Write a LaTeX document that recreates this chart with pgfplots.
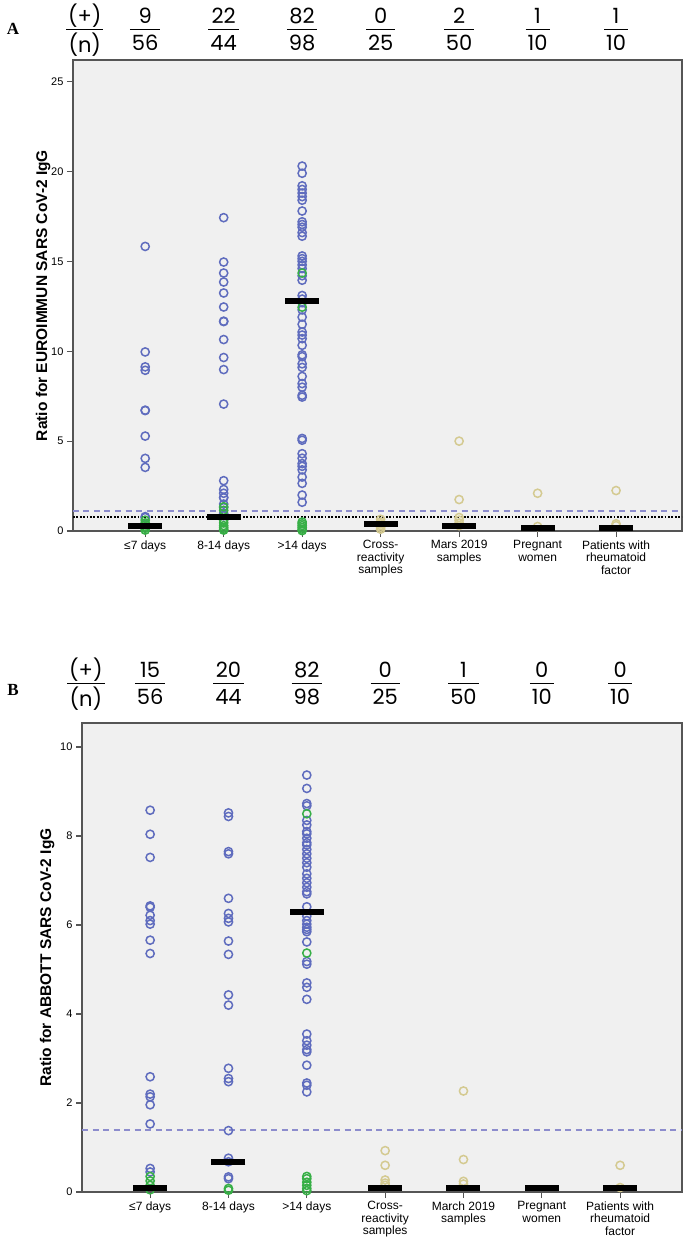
\documentclass[border=0pt]{standalone}
\usepackage{fontspec}
\setmainfont{Liberation Sans}
\newfontfamily\fracfont{Poppins}
\newfontfamily\serifb{Liberation Serif}
\usepackage{pgfplots}
\usepackage{pgfplotstable}
\pgfplotsset{compat=1.18}
\definecolor{bluept}{RGB}{95,108,190}
\definecolor{greenpt}{RGB}{55,175,70}
\definecolor{tanpt}{RGB}{212,202,145}
\definecolor{bgg}{RGB}{240,240,240}
\definecolor{framec}{RGB}{85,85,85}
\definecolor{dashc}{RGB}{140,140,205}

\newcommand{\fr}[2]{{\fracfont\fontsize{21}{24}\selectfont\setlength{\arrayrulewidth}{1.3pt}\setlength{\tabcolsep}{2pt}\begin{tabular}{c}#1\\[-2pt]\hline\noalign{\vskip 3pt}#2\end{tabular}}}

% ---------- Panel A data ----------
\pgfplotstableread{
x y
0 15.83
0 9.96
0 9.13
0 8.94
0 6.72
0 6.70
0 5.28
0 4.04
0 3.54
0 0.80
0 0.75
1 17.43
1 14.96
1 14.35
1 13.85
1 13.24
1 12.46
1 11.67
1 11.65
1 10.65
1 9.65
1 8.98
1 7.06
1 2.80
1 2.31
1 2.10
1 1.87
1 1.85
1 1.50
1 1.30
1 0.98
1 0.85
2 20.3
2 19.9
2 19.2
2 19.0
2 18.8
2 18.6
2 18.4
2 17.8
2 17.2
2 17.05
2 16.9
2 16.6
2 16.4
2 15.3
2 15.15
2 15.0
2 14.8
2 14.6
2 14.2
2 13.95
2 13.1
2 12.9
2 12.7
2 12.3
2 11.9
2 11.5
2 11.07
2 10.9
2 10.7
2 10.33
2 9.8
2 9.7
2 9.3
2 9.1
2 8.6
2 8.2
2 8.0
2 7.55
2 7.45
2 5.15
2 5.05
2 4.3
2 4.05
2 3.75
2 3.6
2 3.4
2 3.0
2 2.65
2 2.0
2 1.6
}\blueA
\pgfplotstableread{
x y
0 0.60
0 0.45
0 0.35
0 0.25
0 0.15
0 0.05
1 1.35
1 1.15
1 0.60
1 0.45
1 0.30
1 0.20
1 0.10
1 0.05
2 14.35
2 12.45
2 0.50
2 0.40
2 0.30
2 0.20
2 0.10
2 0.02
}\greenA
\pgfplotstableread{
x y
3 0.65
3 0.50
3 0.40
3 0.30
3 0.20
3 0.10
4 5.00
4 1.75
4 0.75
4 0.60
4 0.45
4 0.30
5 2.10
5 0.25
6 2.25
6 0.40
6 0.30
}\tanA
\pgfplotstableread{
x y
0 0.28
1 0.76
2 12.8
3 0.37
4 0.30
5 0.15
6 0.15
}\medA

% ---------- Panel B data ----------
\pgfplotstableread{
x y
0 8.58
0 8.04
0 7.52
0 6.43
0 6.40
0 6.22
0 6.10
0 6.02
0 5.66
0 5.36
0 2.59
0 2.20
0 2.14
0 1.96
0 1.53
0 0.53
0 0.45
1 8.52
1 8.44
1 7.65
1 7.60
1 6.60
1 6.26
1 6.15
1 6.07
1 5.64
1 5.34
1 4.43
1 4.20
1 2.78
1 2.55
1 2.48
1 1.38
1 0.76
1 0.68
1 0.34
1 0.30
2 9.37
2 9.07
2 8.73
2 8.68
2 8.35
2 8.25
2 8.10
2 8.05
2 7.95
2 7.85
2 7.80
2 7.70
2 7.60
2 7.50
2 7.40
2 7.30
2 7.15
2 7.05
2 6.95
2 6.85
2 6.75
2 6.70
2 6.41
2 6.20
2 6.10
2 6.02
2 5.95
2 5.90
2 5.85
2 5.62
2 5.18
2 5.12
2 4.70
2 4.60
2 4.33
2 3.55
2 3.40
2 3.30
2 3.20
2 3.15
2 2.85
2 2.45
2 2.40
2 2.25
}\blueB
\pgfplotstableread{
x y
0 0.35
0 0.25
0 0.15
0 0.05
1 0.08
1 0.04
2 8.50
2 5.37
2 0.35
2 0.30
2 0.22
2 0.15
2 0.08
2 0.03
}\greenB
\pgfplotstableread{
x y
3 0.93
3 0.60
3 0.27
3 0.20
3 0.15
4 2.27
4 0.73
4 0.24
4 0.18
6 0.60
6 0.10
}\tanB
\pgfplotstableread{
x y
0 0.10
1 0.67
2 6.30
3 0.08
4 0.08
5 0.08
6 0.10
}\medB

\pgfplotsset{
  myaxis/.style={
    scale only axis,
    axis background/.style={fill=bgg},
    axis line style={framec, line width=1.1pt},
    xtick={0,...,6},
    tick pos=left,
    tick align=outside,
    major tick length=6pt,
    tick style={framec, line width=1.1pt},
    /pgf/number format/assume math mode=true,
    yticklabel style={font=\fontsize{11}{13}\selectfont},
    xticklabel style={font=\fontsize{12}{12.5}\selectfont, align=center, anchor=north},
    ylabel style={font=\fontsize{15.5}{18}\selectfont\bfseries, anchor=center},
    clip mode=individual,
    ymin=0,
  },
  bluemk/.style={only marks, mark=o, mark size=4.1pt, mark options={line width=1.5pt, draw=bluept}},
  greenmk/.style={only marks, mark=o, mark size=4.1pt, mark options={line width=1.5pt, draw=greenpt}},
  tanmk/.style={only marks, mark=o, mark size=4.1pt, mark options={line width=1.5pt, draw=tanpt}},
  medmk/.style={only marks, mark=-, mark size=17pt, mark options={line width=6pt, draw=black}},
}

\begin{document}
\begin{tikzpicture}
\path[use as bounding box] (0,0) rectangle (689pt,-1240pt);

\node[font=\serifb\bfseries\fontsize{17}{20}\selectfont] at (13pt,-29pt) {A};
\node[font=\serifb\bfseries\fontsize{17}{20}\selectfont] at (13pt,-690pt) {B};

% ---------------- Panel A ----------------
\begin{axis}[myaxis,
  at={(73pt,-531pt)}, anchor=south west,
  width=609pt, height=471pt,
  xmin=-0.92, xmax=6.84, ymax=26.2,
  ytick={0,5,10,15,20,25},
  xticklabels={{≤7 days},{8-14 days},{>14 days},{Cross-\\reactivity\\samples},{Mars 2019\\samples},{Pregnant\\women},{Patients with\\rheumatoid\\factor}},
  ylabel={Ratio for EUROIMMUN SARS CoV-2 IgG},
  ylabel style={at={(axis description cs:-0.049,0.5)}},
]
\addplot[dashc, line width=1.7pt, dash pattern=on 6pt off 4.5pt] coordinates {(-0.92,1.1) (6.84,1.1)};
\addplot[black, line width=1.9pt, dash pattern=on 1.8pt off 1.6pt] coordinates {(-0.92,0.8) (6.84,0.8)};
\addplot[bluemk] table[x=x,y=y] {\blueA};
\addplot[greenmk] table[x=x,y=y] {\greenA};
\addplot[tanmk] table[x=x,y=y] {\tanA};
\addplot[medmk] table[x=x,y=y] {\medA};
\node at (axis cs:-0.77,27.75) {\fr{(+)}{(n)}};
\node at (axis cs:0,27.75) {\fr{9}{56}};
\node at (axis cs:1,27.75) {\fr{22}{44}};
\node at (axis cs:2,27.75) {\fr{82}{98}};
\node at (axis cs:3,27.75) {\fr{0}{25}};
\node at (axis cs:4,27.75) {\fr{2}{50}};
\node at (axis cs:5,27.75) {\fr{1}{10}};
\node at (axis cs:6,27.75) {\fr{1}{10}};
\end{axis}

% ---------------- Panel B ----------------
\begin{axis}[myaxis,
  at={(82pt,-1192pt)}, anchor=south west,
  width=600pt, height=469pt,
  xmin=-0.87, xmax=6.79, ymax=10.54,
  ytick={0,2,4,6,8,10},
  xticklabels={{≤7 days},{8-14 days},{>14 days},{Cross-\\reactivity\\samples},{March 2019\\samples},{Pregnant\\women},{Patients with\\rheumatoid\\factor}},
  ylabel={Ratio for ABBOTT SARS CoV-2 IgG},
  ylabel style={at={(axis description cs:-0.058,0.5)}},
]
\addplot[dashc, line width=1.7pt, dash pattern=on 6pt off 4.5pt] coordinates {(-0.87,1.4) (6.79,1.4)};
\addplot[bluemk] table[x=x,y=y] {\blueB};
\addplot[greenmk] table[x=x,y=y] {\greenB};
\addplot[tanmk] table[x=x,y=y] {\tanB};
\addplot[medmk] table[x=x,y=y] {\medB};
\node at (axis cs:-0.82,11.37) {\fr{(+)}{(n)}};
\node at (axis cs:0,11.37) {\fr{15}{56}};
\node at (axis cs:1,11.37) {\fr{20}{44}};
\node at (axis cs:2,11.37) {\fr{82}{98}};
\node at (axis cs:3,11.37) {\fr{0}{25}};
\node at (axis cs:4,11.37) {\fr{1}{50}};
\node at (axis cs:5,11.37) {\fr{0}{10}};
\node at (axis cs:6,11.37) {\fr{0}{10}};
\end{axis}
\end{tikzpicture}
\end{document}
